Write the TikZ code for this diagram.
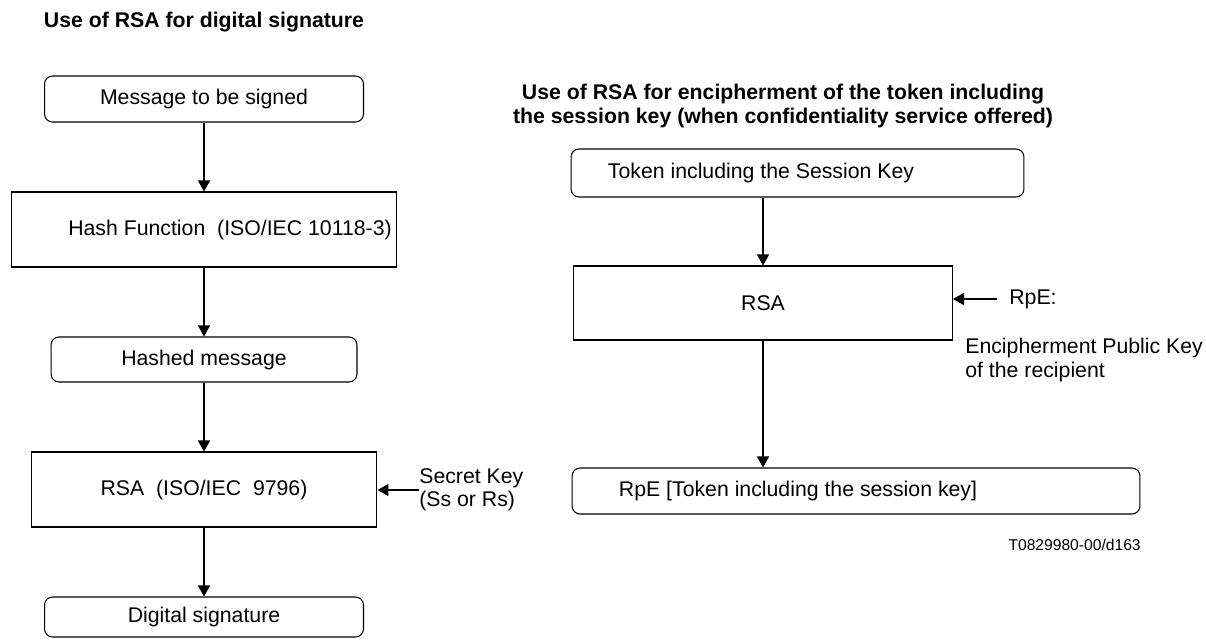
\documentclass[tikz,border=0pt]{standalone}
\usepackage{fontspec}
\setmainfont{Liberation Sans}
\usetikzlibrary{arrows.meta}

\begin{document}
\begin{tikzpicture}[x=0.02cm, y=-0.02cm,
  font=\fontsize{12.1pt}{13.1pt}\selectfont,
  box/.style={draw, line width=0.6pt, inner sep=0pt},
  rbox/.style={box, rounded corners=0.16cm},
  arr/.style={line width=0.8pt, -{Triangle[length=0.22cm, width=0.24cm]}},
  lbl/.style={align=left, inner sep=0pt}]
\useasboundingbox (0,0) rectangle (1206,639);

\node[font=\fontsize{12.1pt}{13.1pt}\selectfont\bfseries] (ttlsig) at (204,22) {Use of RSA for digital signature};
\node[rbox, minimum width=6.38cm, minimum height=0.92cm] (msg) at (204,99) {Message to be signed};
\node[box, minimum width=7.72cm, minimum height=1.5cm] (hash) at (204,229.5) {\hspace*{1.04cm}Hash Function\ \ (ISO/IEC 10118-3)};
\node[rbox, minimum width=6.12cm, minimum height=0.9cm] (hmsg) at (204,359.5) {Hashed message};
\node[box, minimum width=6.92cm, minimum height=1.5cm] (rsasig) at (204,489.5) {RSA\ \ (ISO/IEC\ \ 9796)};
\node[rbox, minimum width=6.38cm, minimum height=0.8cm] (dsig) at (204,617) {Digital signature};
\node[lbl, anchor=west] (skey) at (419,490) {Secret Key\\(Ss or Rs)};

\draw[arr] (msg) -- (hash);
\draw[arr] (hash) -- (hmsg);
\draw[arr] (hmsg) -- (rsasig);
\draw[arr] (rsasig) -- (dsig);
\draw[arr] (skey.west) -- (skey.west -| rsasig.east);

\node[font=\fontsize{12.1pt}{13.1pt}\selectfont\bfseries, align=center] (ttlenc) at (783,106) {Use of RSA for encipherment of the token including\\the session key (when confidentiality service offered)};
\node[rbox, minimum width=9.06cm, minimum height=0.96cm] (token) at (797.5,173) {Token including the Session Key\hspace*{1.46cm}};
\node[box, minimum width=7.58cm, minimum height=1.48cm] (rsaenc) at (763,303) {RSA};
\node[rbox, minimum width=11.36cm, minimum height=0.92cm] (enctok) at (856,491) {RpE [Token including the session key]\hspace*{2.32cm}};
\node[lbl, inner xsep=0.24cm, anchor=west] (rpe) at (997,299) {RpE:};
\node[lbl, anchor=west] (rpedesc) at (965,360) {Encipherment Public Key\\of the recipient};
\node[anchor=east, inner sep=0pt, font=\fontsize{8.9pt}{10pt}\selectfont] (figid) at (1141,545) {T0829980-00/d163};

\draw[arr] (token.south -| rsaenc) -- (rsaenc);
\draw[arr] (rsaenc) -- (rsaenc |- enctok.north);
\draw[arr] (rpe.west) -- (rpe.west -| rsaenc.east);
\end{tikzpicture}
\end{document}
